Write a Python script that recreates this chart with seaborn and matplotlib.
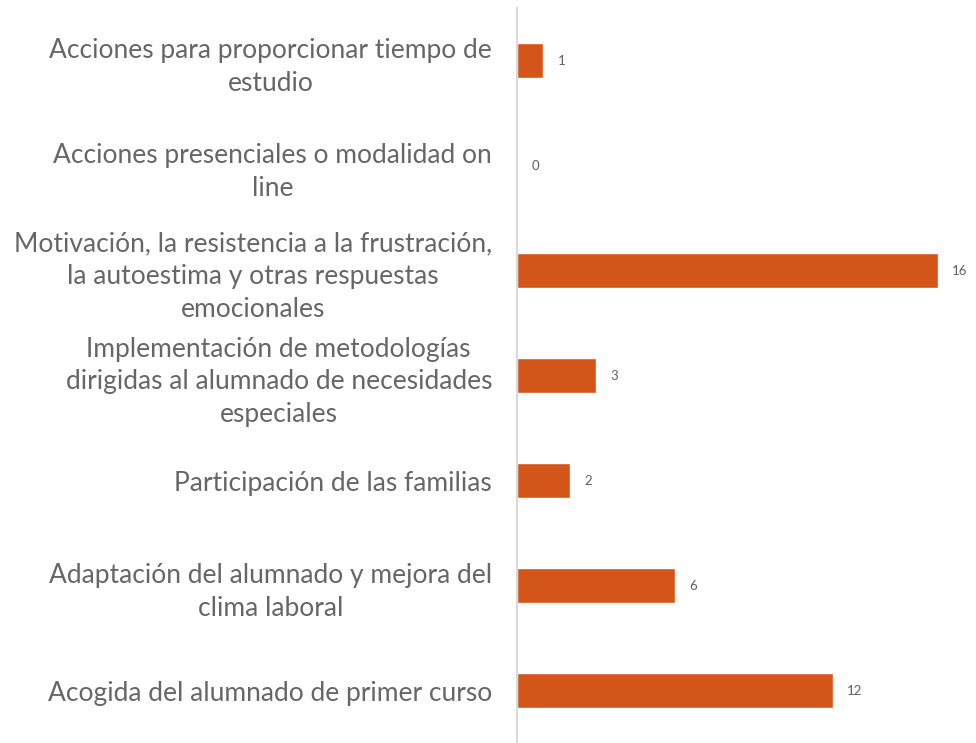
import matplotlib
matplotlib.use("Agg")
import matplotlib.pyplot as plt
import seaborn as sns
import pandas as pd

categories = [
    "Acciones para proporcionar tiempo de\nestudio",
    "Acciones presenciales o modalidad on\nline",
    "Motivación, la resistencia a la frustración,\nla autoestima y otras respuestas\nemocionales",
    "Implementación de metodologías\ndirigidas al alumnado de necesidades\nespeciales",
    "Participación de las familias",
    "Adaptación del alumnado y mejora del\nclima laboral",
    "Acogida del alumnado de primer curso",
]
values = [1, 0, 16, 3, 2, 6, 12]

df = pd.DataFrame({"cat": categories, "val": values})

sns.set_style("white")
plt.rcParams["font.family"] = ["Lato", "DejaVu Sans"]

fig = plt.figure(figsize=(9.76, 7.43), dpi=100)
ax = fig.add_axes([517 / 976, 0.0, 1 - 517 / 976, 1 - 8 / 743])

sns.barplot(data=df, x="val", y="cat", color="#D35519", saturation=1,
            width=0.33, orient="h", ax=ax)

ax.set_xlim(0, 17.45)
ax.set_ylim(6.5, -0.5)
ax.set_xlabel("")
ax.set_ylabel("")
ax.set_xticks([])

for s in ["top", "right", "bottom"]:
    ax.spines[s].set_visible(False)
ax.spines["left"].set_color("#d9d9d9")
ax.spines["left"].set_linewidth(1.5)

ax.tick_params(axis="y", length=0, pad=18, labelsize=19, labelcolor="#666666")
for lbl in ax.get_yticklabels():
    lbl.set_multialignment("center")
    lbl.set_linespacing(1.38)

for i, v in enumerate(values):
    ax.text(v + 0.55, i, str(v), va="center", ha="left",
            fontsize=9.5, color="#5f5f5f")

fig.savefig("out.png", dpi=100)
